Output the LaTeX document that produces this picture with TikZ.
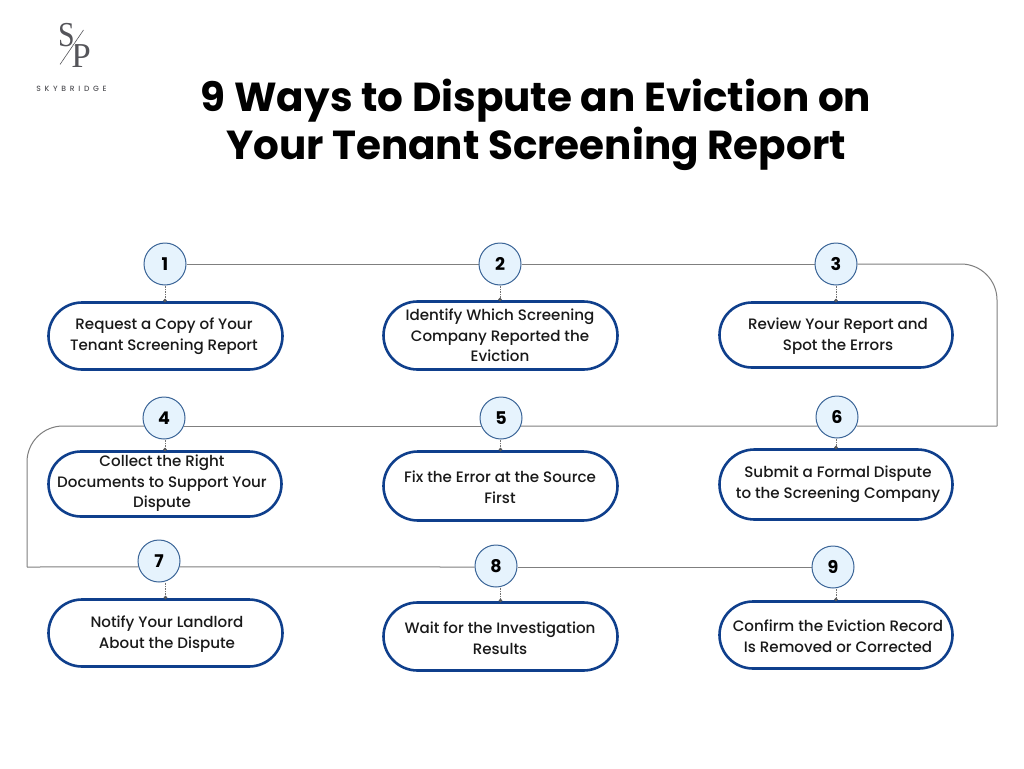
\documentclass[tikz,border=0pt]{standalone}
\usepackage{fontspec}
\setmainfont{Poppins}
\newfontfamily\medfont{Poppins Medium}
\newfontfamily\logofont{Liberation Serif}
\usetikzlibrary{shapes.misc,arrows.meta,backgrounds}
\definecolor{pillblue}{HTML}{0F3F8C}
\definecolor{circfill}{HTML}{E6F3FD}
\definecolor{circline}{HTML}{3A6497}
\definecolor{linegray}{HTML}{7F7F7F}
\definecolor{logogray}{HTML}{55555A}
\tikzset{
 x=1pt,y=-1pt,
 numc/.style={circle,draw=circline,line width=1pt,fill=circfill,minimum size=42pt,inner sep=0pt,font=\fontsize{17.5}{20}\selectfont\bfseries},
 pill/.style={rounded rectangle,draw=pillblue,line width=2.6pt,fill=white,inner sep=0pt},
 ptext/.style={align=center,inner sep=0pt,text=black!90,font=\fontsize{15.1}{20.6}\selectfont\medfont},
 flow/.style={draw=linegray,line width=1pt},
 stem/.style={draw=black!55,line width=0.7pt,densely dotted,-{Circle[length=3.5pt,black!65]},shorten >=-1pt},
 logoletter/.style={inner sep=0pt,text=logogray,font=\logofont\fontsize{35}{35}\selectfont},
}
\newcommand{\pillat}[5]{\node[pill,minimum width=#4pt,minimum height=#5pt] (#1) at (#2,#3) {};}
\begin{document}
\begin{tikzpicture}
\useasboundingbox (0,0) rectangle (1024,768);
\begin{scope}[on background layer]
\fill[white] (0,0) rectangle (1024,768);
\end{scope}
% logo
\node[logoletter,xscale=0.85] (logoS) at (66.5,35) {S};
\node[logoletter] (logoP) at (81,56) {P};
\coordinate (slashA) at (83.5,30);
\coordinate (slashB) at (60,64.5);
\draw[white,line width=2.2pt] (slashA) -- (slashB);
\draw[logogray,line width=0.6pt] (slashA) -- (slashB);
\node (brand) at (71.5,88.5) {\fontsize{7.6}{9}\selectfont\medfont\color{logogray}S\hspace{3.7pt}K\hspace{3.7pt}Y\hspace{3.7pt}B\hspace{3.7pt}R\hspace{3.7pt}I\hspace{3.7pt}D\hspace{3.7pt}G\hspace{3.7pt}E};
% title
\node[align=center,inner sep=0pt,font=\fontsize{40.5}{48}\selectfont\bfseries] (title) at (536,124.5) {9 Ways to Dispute an Eviction on\\Your Tenant Screening Report};
% number circles
\node[numc] (c1) at (165,264) {1};
\node[numc] (c2) at (500,264) {2};
\node[numc] (c3) at (836,264) {3};
\node[numc] (c4) at (164,418) {4};
\node[numc] (c5) at (501,418) {5};
\node[numc] (c6) at (837,417) {6};
\node[numc] (c7) at (159,561) {7};
\node[numc] (c8) at (496,566) {8};
\node[numc] (c9) at (833,567) {9};
% pills
\pillat{p1}{165.5}{336}{234}{67}
\pillat{p2}{500.5}{335.5}{234}{68}
\pillat{p3}{836}{335}{233}{65}
\pillat{p4}{165}{484}{233}{65}
\pillat{p5}{500.5}{486}{234}{69}
\pillat{p6}{836}{484.5}{233}{70}
\pillat{p7}{165.5}{633}{234}{67}
\pillat{p8}{500.5}{636.5}{234}{68}
\pillat{p9}{836}{635}{233}{67}
% pill texts
\node[ptext] (t1) at (164,336) {Request a Copy of Your\\Tenant Screening Report};
\node[ptext] (t2) at (500,335.5) {Identify Which Screening\\Company Reported the\\Eviction};
\node[ptext] (t3) at (838,336) {Review Your Report and\\Spot the Errors};
\node[ptext] (t4) at (162,483.5) {Collect the Right\\Documents to Support Your\\Dispute};
\node[ptext] (t5) at (500,487) {Fix the Error at the Source\\First};
\node[ptext] (t6) at (838,484.5) {Submit a Formal Dispute\\to the Screening Company};
\node[ptext] (t7) at (167,634) {Notify Your Landlord\\About the Dispute};
\node[ptext] (t8) at (500,638.5) {Wait for the Investigation\\Results};
\node[ptext] (t9) at (838,636.5) {Confirm the Eviction Record\\Is Removed or Corrected};
% corner coordinates
\coordinate (r1) at (997,264);
\coordinate (r2) at (997,426);
\coordinate (l1) at (27,426);
\coordinate (l2) at (27,567);
\begin{scope}[on background layer]
\draw[flow] (c1) -- (c2);
\draw[flow] (c2) -- (c3);
\draw[flow,rounded corners=36pt] (c3) -- (r1) -- (r2);
\draw[flow] (r2) -- (c6.-25.4);
\draw[flow] (c6.205.4) -- (c5.-22.4);
\draw[flow] (c5.202.4) -- (c4.-22.4);
\draw[flow,rounded corners=36pt] (c4.202.4) -- (l1) -- (l2);
\draw[flow] (l2) -- (c7.196.6);
\draw[flow] (c7.-16.6) -- (c8.west |- l2);
\draw[flow] (c8.east |- l2) -- (c9.west);
\end{scope}
% stems
\draw[stem] (c1.south) -- (p1.north -| c1.south);
\draw[stem] (c2.south) -- (p2.north -| c2.south);
\draw[stem] (c3.south) -- (p3.north -| c3.south);
\draw[stem] (p4.north |- c4.south) -- (p4.north);
\draw[stem] (p5.north |- c5.south) -- (p5.north);
\draw[stem] (p6.north |- c6.south) -- (p6.north);
\draw[stem] (p7.north |- c7.south) -- (p7.north);
\draw[stem] (p8.north |- c8.south) -- (p8.north);
\draw[stem] (p9.north |- c9.south) -- (p9.north);
\end{tikzpicture}
\end{document}
